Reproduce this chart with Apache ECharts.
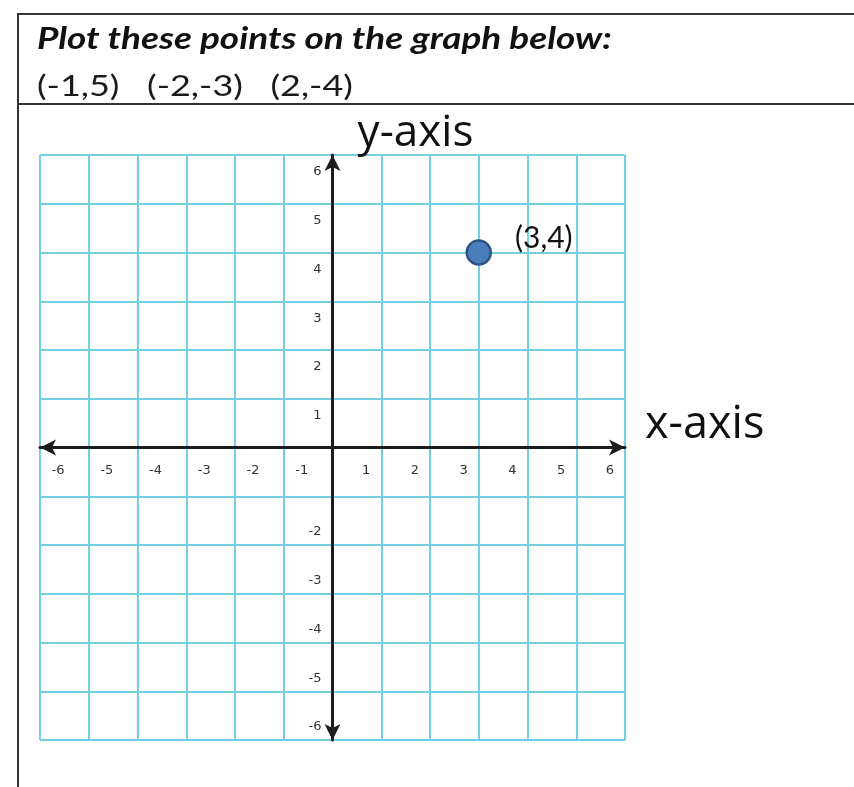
<!DOCTYPE html>
<html>
<head>
<meta charset="utf-8">
<script src="https://cdn.jsdelivr.net/npm/echarts@6/dist/echarts.min.js"></script>
<style>
  html, body { margin: 0; padding: 0; background: #fff; }
  #chart { width: 854px; height: 787px; }
</style>
</head>
<body>
<div id="chart"></div>
<script>
// worksheet data
var heading = 'Plot these points on the graph below:';
var pointsToPlot = [[-1, 5], [-2, -3], [2, -4]];
var examplePoint = [3, 4];
var axisMin = -6;
var axisMax = 6;
var hiddenYLabels = [0, -1];
var hiddenXLabels = [0];

var gridColor = '#74cfe2';
var axisColor = '#1c1c1c';

// plot box (px)
var gridLeft = 40, gridRight = 229, gridTop = 155, gridBottom = 47;
var plotW = 854 - gridLeft - gridRight;
var plotH = 787 - gridTop - gridBottom;

function pairText(p) {
    return '(' + p[0] + ',' + p[1] + ')';
}

var chart = echarts.init(document.getElementById('chart'));

var labelFont = { fontFamily: 'DejaVu Sans', fontSize: 13, color: '#333' };

var option = {
    backgroundColor: '#fff',
    animation: false,
    graphic: [
        { type: 'line', shape: { x1: 17, y1: 14, x2: 854, y2: 14 }, style: { stroke: '#333', lineWidth: 2 } },
        { type: 'line', shape: { x1: 18, y1: 13, x2: 18, y2: 787 }, style: { stroke: '#333', lineWidth: 2 } },
        { type: 'line', shape: { x1: 17, y1: 104, x2: 854, y2: 104 }, style: { stroke: '#333', lineWidth: 2 } },
        {
            type: 'text', x: 37, y: 23, scaleX: 1.19,
            style: {
                text: heading,
                fontFamily: 'Lato', fontStyle: 'italic', fontWeight: 'bold',
                fontSize: 31, fill: '#111'
            }
        },
        {
            type: 'text', x: 37, y: 72, scaleX: 1.24,
            style: {
                text: pointsToPlot.map(pairText).join('   '),
                fontFamily: 'Lato', fontSize: 29, fill: '#1a1a1a'
            }
        }
    ],
    grid: {
        left: gridLeft,
        right: gridRight,
        top: gridTop,
        bottom: gridBottom
    },
    xAxis: {
        type: 'value',
        min: axisMin,
        max: axisMax,
        interval: 1,
        offset: -plotH / 2,
        name: 'x-axis',
        nameLocation: 'end',
        nameGap: 20,
        nameTextStyle: {
            fontFamily: 'Open Sans',
            fontSize: 45,
            color: '#111',
            verticalAlign: 'bottom'
        },
        axisLine: {
            onZero: false,
            symbol: ['arrow', 'arrow'],
            symbolSize: [12, 16],
            lineStyle: { color: axisColor, width: 3 }
        },
        axisTick: { show: false },
        splitLine: { show: true, lineStyle: { color: gridColor, width: 2 } },
        axisLabel: {
            margin: 17,
            fontFamily: labelFont.fontFamily,
            fontSize: labelFont.fontSize,
            color: labelFont.color,
            formatter: function (v) {
                if (hiddenXLabels.indexOf(v) >= 0) return '';
                return v < 0 ? '{neg|' + v + '}' : '{pos|' + v + '}';
            },
            rich: {
                neg: Object.assign({ padding: [0, 0, 0, 36] }, labelFont),
                pos: Object.assign({ padding: [0, 30, 0, 0] }, labelFont)
            }
        }
    },
    yAxis: {
        type: 'value',
        min: axisMin,
        max: axisMax,
        interval: 1,
        offset: -plotW / 2,
        name: 'y-axis',
        nameLocation: 'end',
        nameGap: 0,
        nameTextStyle: {
            fontFamily: 'Open Sans',
            fontSize: 44,
            color: '#111',
            padding: [0, 0, 0, 166]
        },
        axisLine: {
            onZero: false,
            symbol: ['arrow', 'arrow'],
            symbolSize: [12, 16],
            lineStyle: { color: axisColor, width: 3 }
        },
        axisTick: { show: false },
        splitLine: { show: true, lineStyle: { color: gridColor, width: 2 } },
        axisLabel: {
            margin: 11,
            fontFamily: labelFont.fontFamily,
            fontSize: labelFont.fontSize,
            color: labelFont.color,
            formatter: function (v) {
                if (hiddenYLabels.indexOf(v) >= 0) return '';
                return v > 0 ? '{pos|' + v + '}' : '{neg|' + v + '}';
            },
            rich: {
                pos: Object.assign({ padding: [34, 0, 0, 0] }, labelFont),
                neg: Object.assign({ padding: [0, 0, 26, 0] }, labelFont)
            }
        }
    },
    series: [
        {
            type: 'scatter',
            data: [examplePoint],
            symbolSize: 24,
            itemStyle: {
                color: '#4a7ebb',
                borderColor: '#2e5383',
                borderWidth: 2.5,
                opacity: 1
            },
            label: {
                show: true,
                position: 'right',
                offset: [18, -14],
                formatter: function (p) { return pairText(p.value); },
                fontFamily: 'Lato',
                fontSize: 30,
                color: '#111'
            },
            z: 5
        }
    ]
};

chart.setOption(option);
</script>
</body>
</html>
